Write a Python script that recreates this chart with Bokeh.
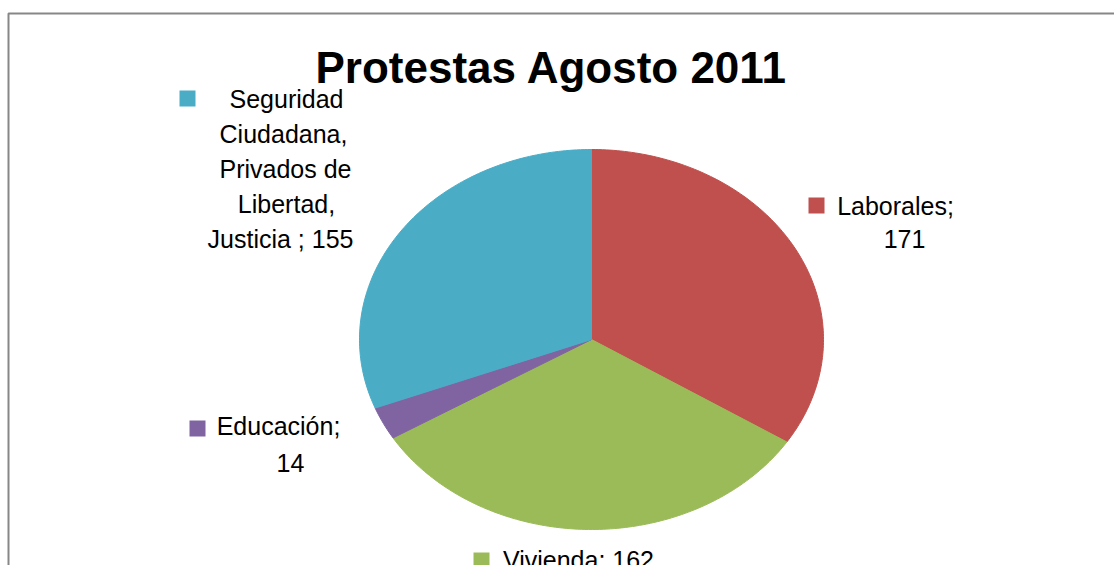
import numpy as np
from bokeh.plotting import figure
from bokeh.models import Range1d, BoxAnnotation
from bokeh.core.properties import value
from bokeh.embed import file_html
from bokeh.resources import INLINE

# ---- data ----
categories = ["Laborales", "Vivienda", "Educación",
              "Seguridad Ciudadana, Privados de Libertad, Justicia "]
counts = [171, 162, 14, 155]
colors = ["#C0504D", "#9BBB59", "#8064A2", "#4BACC6"]
title_text = "Protestas Agosto 2011"

# ---- layout (pixel coordinates, y grows downward) ----
W, H = 1114, 565
CX, CY, RX, RY = 591, 339, 232, 190
# label lines per slice: (text, x_center, baseline)
label_lines = [
    [("Laborales;", 895, 215), ("171", 904, 248)],
    [("Vivienda; 162", 578, 569)],
    [("Educación;", 278, 435), ("14", 290, 472)],
    [("Seguridad", 286, 108), ("Ciudadana,", 283, 143), ("Privados de", 285, 178),
     ("Libertad,", 286, 213), ("Justicia ; 155", 280, 248)],
]
LABEL_SHIFT = 10   # renderer baseline correction for 25px text
TITLE_SHIFT = 15   # renderer baseline correction for 44px text
key_pos = [(816, 205), (481, 560), (197, 428), (187, 98)]

p = figure(width=W, height=H, output_backend="svg", toolbar_location=None,
           x_range=Range1d(0, W), y_range=Range1d(H, 0),
           min_border=0, min_border_left=0, min_border_right=0,
           min_border_top=0, min_border_bottom=0)
p.axis.visible = False
p.grid.visible = False
p.outline_line_color = None
p.background_fill_color = "white"
p.border_fill_color = "white"

# chart-area border
p.add_layout(BoxAnnotation(left=8, top=13, right=W + 20, bottom=H + 20,
                           fill_alpha=0, line_color="#878787", line_alpha=1,
                           line_width=2))

# pie slices (ellipse, clockwise from 12 o'clock)
vals = np.array(counts, dtype=float)
frac = vals / vals.sum()
ends = np.cumsum(frac) * 2 * np.pi
starts = ends - frac * 2 * np.pi
xs, ys = [], []
for a0, a1 in zip(starts, ends):
    n = max(int((a1 - a0) / (2 * np.pi) * 400), 8)
    t = np.linspace(a0, a1, n)
    xs.append([CX] + list(CX + RX * np.sin(t)) + [CX])
    ys.append([CY] + list(CY - RY * np.cos(t)) + [CY])
p.patches(xs, ys, fill_color=colors, line_color=colors, line_width=1)

# legend keys
p.scatter([k[0] for k in key_pos], [k[1] for k in key_pos], marker="square",
          size=16, fill_color=colors, line_color=None)

# labels
tx, ty, tt = [], [], []
for lines in label_lines:
    for s, x, y in lines:
        tt.append(s); tx.append(x); ty.append(y - LABEL_SHIFT)
p.text(tx, ty, text=tt, text_align="center", text_baseline="alphabetic",
       text_font=value("Liberation Sans"), text_font_size="25px", text_color="black")

# title
p.text([551], [82 - TITLE_SHIFT], text=[title_text], text_align="center",
       text_baseline="alphabetic",
       text_font=value("Liberation Sans"), text_font_style="bold",
       text_font_size="44px", text_color="black")

open("out.html", "w").write(file_html(p, INLINE))
